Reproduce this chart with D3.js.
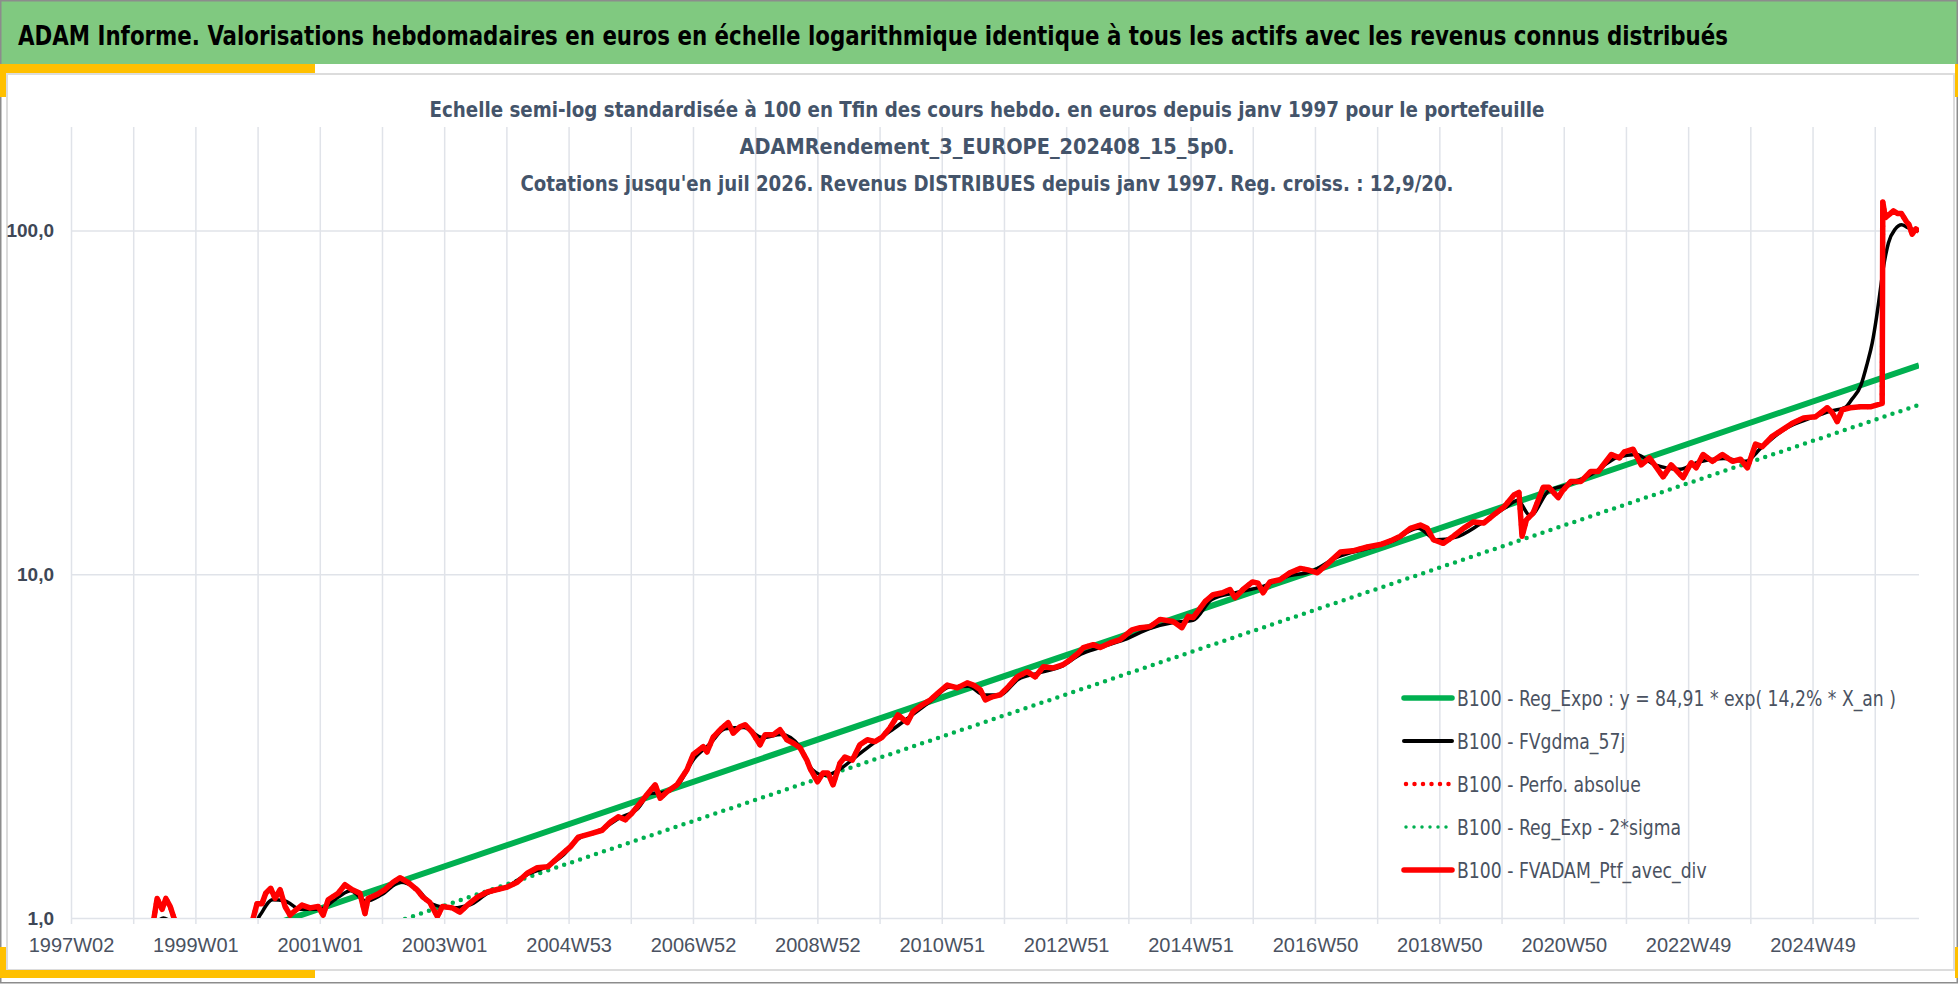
<!DOCTYPE html>
<html>
<head>
<meta charset="utf-8">
<script src="https://cdn.jsdelivr.net/npm/d3@7"></script>
<style>
  body { margin: 0; background: #fff; }
  svg { display: block; font-family: "Liberation Sans Narrow", "DejaVu Sans Condensed", sans-serif; }
</style>
</head>
<body>
<svg id="chart" width="1958" height="984"></svg>
<script>
const width = 1958;
const height = 984;

// x axis : weekly categories from 1997W02, one label every 104 weeks
const xLabels = ["1997W02", "1999W01", "2001W01", "2003W01", "2004W53", "2006W52", "2008W52",
  "2010W51", "2012W51", "2014W51", "2016W50", "2018W50", "2020W50", "2022W49", "2024W49"];
const yTicks = [1, 10, 100];

// B100 - FVADAM_Ptf_avec_div (also used by "Perfo. absolue", drawn underneath)
const ptfYears = [1997.02, 1998.30, 1998.35, 1998.40, 1998.48, 1998.54, 1998.61, 1998.67, 1998.72, 1999.20,
  1999.90, 1999.94, 2000.00, 2000.08, 2000.14, 2000.22, 2000.29, 2000.37, 2000.45, 2000.53,
  2000.61, 2000.72, 2000.85, 2000.98, 2001.06, 2001.14, 2001.30, 2001.41, 2001.52, 2001.65,
  2001.73, 2001.78, 2001.92, 2002.05, 2002.18, 2002.29, 2002.42, 2002.56, 2002.66, 2002.77,
  2002.89, 2002.97, 2003.13, 2003.25, 2003.37, 2003.53, 2003.69, 2003.85, 2004.01, 2004.17,
  2004.33, 2004.49, 2004.66, 2004.86, 2005.02, 2005.15, 2005.35, 2005.53, 2005.66, 2005.79,
  2005.90, 2006.01, 2006.14, 2006.27, 2006.38, 2006.46, 2006.57, 2006.73, 2006.89, 2006.99,
  2007.15, 2007.21, 2007.31, 2007.45, 2007.55, 2007.63, 2007.74, 2007.82, 2007.93, 2008.06,
  2008.14, 2008.27, 2008.38, 2008.49, 2008.59, 2008.70, 2008.81, 2008.86, 2008.98, 2009.07,
  2009.15, 2009.23, 2009.34, 2009.42, 2009.54, 2009.66, 2009.78, 2009.90, 2010.02, 2010.14,
  2010.27, 2010.42, 2010.51, 2010.66, 2010.79, 2010.91, 2011.06, 2011.22, 2011.38, 2011.48,
  2011.59, 2011.67, 2011.78, 2011.91, 2012.04, 2012.18, 2012.34, 2012.47, 2012.60, 2012.76,
  2012.92, 2013.03, 2013.16, 2013.24, 2013.40, 2013.51, 2013.67, 2013.83, 2014.02, 2014.15,
  2014.31, 2014.47, 2014.68, 2014.82, 2014.92, 2015.00, 2015.19, 2015.32, 2015.47, 2015.59,
  2015.67, 2015.80, 2015.95, 2016.04, 2016.12, 2016.23, 2016.39, 2016.55, 2016.72, 2016.84,
  2016.99, 2017.15, 2017.36, 2017.56, 2017.79, 2018.00, 2018.16, 2018.32, 2018.48, 2018.64,
  2018.75, 2018.85, 2019.01, 2019.17, 2019.33, 2019.49, 2019.66, 2019.82, 2019.98, 2020.14,
  2020.22, 2020.27, 2020.34, 2020.45, 2020.61, 2020.70, 2020.85, 2020.91, 2021.05, 2021.21,
  2021.37, 2021.49, 2021.70, 2021.83, 2021.91, 2022.05, 2022.18, 2022.31, 2022.42, 2022.53,
  2022.66, 2022.85, 2022.98, 2023.06, 2023.17, 2023.32, 2023.48, 2023.64, 2023.77, 2023.88,
  2024.01, 2024.12, 2024.28, 2024.44, 2024.60, 2024.78, 2024.97, 2025.16, 2025.24, 2025.32,
  2025.40, 2025.53, 2025.69, 2025.85, 2025.96, 2026.04, 2026.05, 2026.09, 2026.17, 2026.22,
  2026.29, 2026.35, 2026.43, 2026.47, 2026.52, 2026.58, 2026.63];
const ptfValues = [0.85, 0.95, 1.00, 1.14, 1.06, 1.14, 1.08, 1.00, 0.95, 0.86,
  0.96, 1.00, 1.10, 1.10, 1.18, 1.22, 1.14, 1.21, 1.08, 1.02,
  1.05, 1.09, 1.07, 1.08, 1.02, 1.13, 1.18, 1.25, 1.21, 1.18,
  1.03, 1.14, 1.17, 1.21, 1.27, 1.31, 1.27, 1.21, 1.15, 1.11,
  1.01, 1.08, 1.07, 1.04, 1.09, 1.15, 1.19, 1.21, 1.23, 1.27,
  1.35, 1.40, 1.41, 1.52, 1.61, 1.72, 1.76, 1.80, 1.90, 1.97,
  1.93, 2.02, 2.16, 2.31, 2.44, 2.23, 2.33, 2.44, 2.70, 2.99,
  3.15, 3.04, 3.36, 3.57, 3.70, 3.45, 3.60, 3.65, 3.48, 3.19,
  3.41, 3.41, 3.53, 3.30, 3.23, 3.13, 2.88, 2.73, 2.49, 2.64,
  2.64, 2.44, 2.82, 2.94, 2.88, 3.19, 3.30, 3.26, 3.36, 3.57,
  3.90, 3.70, 3.98, 4.17, 4.31, 4.51, 4.76, 4.67, 4.83, 4.76,
  4.61, 4.31, 4.40, 4.46, 4.71, 5.03, 5.21, 5.03, 5.38, 5.34,
  5.46, 5.64, 5.90, 6.12, 6.24, 6.12, 6.31, 6.45, 6.89, 6.99,
  7.04, 7.39, 7.29, 6.99, 7.54, 7.48, 8.33, 8.72, 8.83, 9.03,
  8.55, 9.03, 9.50, 9.42, 8.83, 9.50, 9.64, 10.1, 10.4, 10.3,
  10.1, 10.7, 11.6, 11.7, 12.0, 12.2, 12.5, 12.9, 13.6, 13.9,
  13.6, 12.6, 12.3, 12.9, 13.6, 14.2, 14.1, 14.9, 15.7, 17.0,
  17.3, 12.9, 14.4, 15.1, 17.9, 17.9, 16.7, 17.4, 18.6, 18.6,
  19.9, 19.9, 22.3, 21.8, 22.7, 23.1, 20.8, 21.8, 20.5, 19.2,
  20.8, 19.1, 21.1, 20.4, 22.3, 21.3, 22.3, 21.3, 21.6, 20.4,
  23.9, 23.5, 25.2, 26.3, 27.5, 28.5, 28.7, 30.5, 29.5, 27.8,
  30.1, 30.5, 30.7, 30.7, 31.1, 31.4, 121, 109, 112, 114,
  112, 112, 106, 104, 97.5, 101, 99.5];

// B100 - FVgdma_57j (smoothed)
const gdmaYears = [1997.02, 1998.35, 1998.50, 1998.70, 1999.90, 2000.05, 2000.25, 2000.45, 2000.70, 2001.00,
  2001.30, 2001.50, 2001.75, 2002.00, 2002.30, 2002.55, 2002.80, 2003.10, 2003.40, 2003.70,
  2004.00, 2004.30, 2004.60, 2004.90, 2005.15, 2005.50, 2005.80, 2006.10, 2006.30, 2006.50,
  2006.75, 2007.00, 2007.25, 2007.50, 2007.80, 2008.10, 2008.40, 2008.70, 2008.90, 2009.10,
  2009.30, 2009.60, 2009.90, 2010.20, 2010.50, 2010.80, 2011.10, 2011.40, 2011.65, 2011.90,
  2012.20, 2012.50, 2012.90, 2013.20, 2013.50, 2013.90, 2014.30, 2014.70, 2015.00, 2015.30,
  2015.70, 2016.10, 2016.50, 2016.90, 2017.30, 2017.80, 2018.20, 2018.60, 2018.90, 2019.20,
  2019.60, 2020.00, 2020.20, 2020.40, 2020.70, 2021.00, 2021.40, 2021.80, 2022.10, 2022.40,
  2022.80, 2023.10, 2023.50, 2023.85, 2024.10, 2024.50, 2024.90, 2025.20, 2025.45, 2025.55,
  2025.70, 2025.80, 2025.88, 2025.95, 2026.00, 2026.06, 2026.14, 2026.25, 2026.35, 2026.45,
  2026.63];
const gdmaValues = [0.85, 0.96, 1.00, 0.96, 0.92, 1.02, 1.13, 1.12, 1.06, 1.06,
  1.15, 1.20, 1.12, 1.17, 1.27, 1.22, 1.10, 1.07, 1.09, 1.18,
  1.23, 1.33, 1.40, 1.52, 1.70, 1.80, 1.95, 2.08, 2.30, 2.32,
  2.45, 2.90, 3.20, 3.55, 3.58, 3.35, 3.42, 3.15, 2.70, 2.60,
  2.68, 2.95, 3.25, 3.55, 3.90, 4.28, 4.70, 4.72, 4.45, 4.45,
  4.95, 5.15, 5.40, 5.85, 6.12, 6.45, 6.95, 7.25, 7.35, 8.45,
  8.85, 9.20, 9.85, 10.2, 11.2, 11.9, 12.5, 13.6, 12.6, 12.8,
  14.0, 15.6, 16.4, 14.8, 17.5, 18.2, 19.6, 21.9, 22.3, 20.8,
  20.2, 21.2, 21.7, 21.3, 23.3, 26.6, 28.5, 29.8, 30.6, 32.2,
  35.5, 41, 47, 56, 65, 78, 92, 101, 104, 102,
  100];

// regression lines (straight on the log scale), values at both ends
const regYears = [1997.02, 2026.63];
const regExpo = [0.604, 40.5];
const regMinus2Sigma = [0.465, 31.1];

const legendLabels = [
  "B100 - Reg_Expo : y = 84,91 * exp( 14,2% *  X_an )",
  "B100 - FVgdma_57j",
  "B100 - Perfo. absolue",
  "B100 - Reg_Exp - 2*sigma",
  "B100 - FVADAM_Ptf_avec_div"
];

const title = "ADAM Informe. Valorisations hebdomadaires en euros en échelle logarithmique identique à tous les actifs avec les revenus connus distribués";
const subtitle = [
  "Echelle semi-log standardisée à 100 en Tfin des cours hebdo.  en euros depuis janv 1997 pour le portefeuille",
  "ADAMRendement_3_EUROPE_202408_15_5p0.",
  "Cotations  jusqu'en juil 2026. Revenus DISTRIBUES depuis janv 1997. Reg. croiss. : 12,9/20."
];

const svg = d3.select("#chart");
const green = "#00b050", red = "#ff0000", yellow = "#ffc000";
const gridColor = "#e0e3e9";

// ---- frame ----
svg.append("rect").attr("width", width).attr("height", height).attr("fill", "#fff");
svg.append("rect").attr("x", 7).attr("y", 74).attr("width", 1947).attr("height", 896)
  .attr("fill", "none").attr("stroke", "#dcdcdc").attr("stroke-width", 2);
svg.append("rect").attr("x", 1).attr("y", 1).attr("width", 1956).attr("height", 63).attr("fill", "#80c980");
svg.append("rect").attr("x", 0.75).attr("y", 0.75).attr("width", width - 1.5).attr("height", height - 2)
  .attr("fill", "none").attr("stroke", "#8c8c8c").attr("stroke-width", 1.5);

// yellow corners
[[0, 64, 315, 9], [0, 64, 6, 33], [6, 970, 309, 8], [0, 947, 6, 31], [1955, 64, 3, 33], [1955, 947, 3, 31]]
  .forEach(r => svg.append("rect").attr("x", r[0]).attr("y", r[1]).attr("width", r[2]).attr("height", r[3]).attr("fill", yellow));

// title: keep its natural width inside the bar, then stretch to the reference width
const titleText = svg.append("text")
  .attr("x", 18).attr("y", 45)
  .attr("font-size", 28).attr("font-weight", "bold").attr("fill", "#000")
  .text(title);
const natural = titleText.node().getComputedTextLength();
titleText.attr("font-size", Math.min(28, 28 * 1900 / natural).toFixed(2))
  .attr("textLength", 1710).attr("lengthAdjust", "spacingAndGlyphs");

// ---- scales ----
const plotLeft = 71, plotRight = 1919, plotTop = 127, plotBottom = 918;
const weekYr = 7 / 365.25;

const x = d3.scaleLinear().domain([1997.02, 2026.63]).range([plotLeft, plotRight]);
const y = d3.scaleLog().domain([1, 200]).range([plotBottom, plotTop]);

// gridlines: one every 52 weeks
const gridYears = d3.range(0, 30).map(i => 1997.02 + i * 52 * weekYr);
svg.append("g").attr("transform", `translate(0,${plotBottom})`)
  .call(d3.axisBottom(x).tickValues(gridYears).tickSize(-(plotBottom - plotTop)).tickSizeOuter(0).tickFormat(""))
  .call(g => g.select(".domain").remove())
  .call(g => g.selectAll("line").attr("stroke", gridColor).attr("stroke-width", 1.5).attr("y2", -(plotBottom - plotTop)).attr("y1", 6));

svg.append("g").attr("transform", `translate(${plotLeft},0)`)
  .call(d3.axisLeft(y).tickValues(yTicks).tickSize(-(plotRight - plotLeft)).tickPadding(17)
    .tickFormat(d => d3.format(".1f")(d).replace(".", ",")))
  .call(g => g.select(".domain").remove())
  .call(g => g.selectAll("line").attr("stroke", gridColor).attr("stroke-width", 1.5))
  .call(g => g.selectAll("text").attr("font-size", 19).attr("font-weight", "bold").attr("fill", "#3e4756")
    .attr("font-family", "'Liberation Sans', sans-serif"));

// x labels
const labelYears = xLabels.map((d, i) => 1997.02 + i * 104 * weekYr);
svg.append("g").attr("transform", `translate(0,${plotBottom})`)
  .call(d3.axisBottom(x).tickValues(labelYears).tickSize(0).tickPadding(20).tickFormat((d, i) => xLabels[i]))
  .call(g => g.select(".domain").remove())
  .call(g => g.selectAll("text").attr("font-size", 20).attr("fill", "#4a5261"));

// subtitle
const subWidths = [1115, 495, 933];
svg.append("g").selectAll("text").data(subtitle).enter().append("text")
  .attr("x", 987).attr("y", (d, i) => 117 + i * 37)
  .attr("text-anchor", "middle")
  .attr("font-size", 21).attr("font-weight", "bold").attr("fill", "#44546a")
  .attr("textLength", (d, i) => subWidths[i]).attr("lengthAdjust", "spacingAndGlyphs")
  .text(d => d);

// ---- series ----
svg.append("clipPath").attr("id", "plotclip").append("rect")
  .attr("x", plotLeft).attr("y", plotTop).attr("width", plotRight - plotLeft).attr("height", plotBottom - plotTop);
const plot = svg.append("g").attr("clip-path", "url(#plotclip)");

const line = d3.line().x(d => x(d[0])).y(d => y(d[1]));
const smooth = d3.line().x(d => x(d[0])).y(d => y(d[1])).curve(d3.curveMonotoneX);
const zipped = (a, b) => a.map((v, i) => [v, b[i]]);

plot.append("path").datum(zipped(regYears, regExpo)).attr("d", line)
  .attr("fill", "none").attr("stroke", green).attr("stroke-width", 6);
plot.append("path").datum(zipped(regYears, regMinus2Sigma)).attr("d", line)
  .attr("fill", "none").attr("stroke", green).attr("stroke-width", 4.5)
  .attr("stroke-linecap", "round").attr("stroke-dasharray", "0,8.4");
plot.append("path").datum(zipped(gdmaYears, gdmaValues)).attr("d", smooth)
  .attr("fill", "none").attr("stroke", "#000").attr("stroke-width", 3.5);
plot.append("path").datum(zipped(ptfYears, ptfValues)).attr("d", line)
  .attr("fill", "none").attr("stroke", red).attr("stroke-width", 5)
  .attr("stroke-linecap", "round").attr("stroke-dasharray", "0,8");
plot.append("path").datum(zipped(ptfYears, ptfValues)).attr("d", line)
  .attr("fill", "none").attr("stroke", red).attr("stroke-width", 5.5).attr("stroke-linejoin", "round");

// ---- legend ----
const legendStyles = [
  { color: green, w: 5.5, dash: null },
  { color: "#000", w: 4, dash: null },
  { color: red, w: 4.5, dash: "0,8.5" },
  { color: green, w: 3.5, dash: "0,8" },
  { color: red, w: 5.5, dash: null }
];
const legend = svg.append("g").attr("transform", "translate(1404,698)");
const items = legend.selectAll("g").data(legendLabels).enter().append("g")
  .attr("transform", (d, i) => `translate(0,${i * 43})`);
items.append("line")
  .attr("x1", (d, i) => legendStyles[i].dash ? 2 : 0).attr("x2", 48)
  .attr("stroke", (d, i) => legendStyles[i].color)
  .attr("stroke-width", (d, i) => legendStyles[i].w)
  .attr("stroke-linecap", "round")
  .attr("stroke-dasharray", (d, i) => legendStyles[i].dash);
const legendText = items.append("text")
  .attr("x", 53).attr("y", 8)
  .attr("font-size", 21).attr("fill", "#4a5261")
  .text(d => d);
// keep the entries inside the frame, then squeeze them to the reference width (first one: 439px)
const firstNatural = legendText.node().getComputedTextLength();
if (1457 + firstNatural > 1945) legendText.attr("font-size", (21 * 488 / firstNatural).toFixed(2));
const squeeze = Math.min(1, 439 / legendText.node().getComputedTextLength());
legendText.each(function() {
  const t = d3.select(this);
  t.attr("textLength", (t.node().getComputedTextLength() * squeeze).toFixed(1)).attr("lengthAdjust", "spacingAndGlyphs");
});
</script>
</body>
</html>
